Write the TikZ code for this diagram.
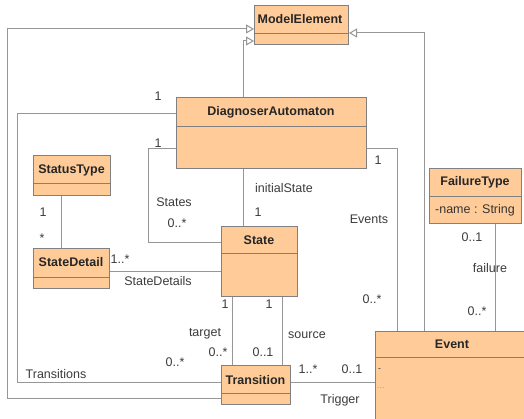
\documentclass[tikz,border=0pt]{standalone}
\usepackage{fontspec}
\setmainfont{Liberation Sans}
\usetikzlibrary{arrows.meta}
\definecolor{boxfill}{RGB}{255,204,153}
\definecolor{boxline}{RGB}{128,128,128}
\definecolor{conncol}{RGB}{150,150,150}
\definecolor{lbl}{RGB}{60,60,60}
\begin{document}
\begin{tikzpicture}[x=1pt,y=-1pt,
  cls/.style={draw=boxline, fill=boxfill, line width=1pt, inner sep=0pt, anchor=north west},
  ttl/.style={font=\fontsize{12.5}{14}\selectfont\bfseries, text=black!85, inner sep=0pt},
  lab/.style={font=\fontsize{12.5}{14}\selectfont, text=lbl, inner sep=0pt},
  assoc/.style={draw=conncol, line width=1pt},
  gen/.style={assoc, -{Triangle[open, length=8pt, width=9pt, fill=white]}},
  divider/.style={draw=boxline, line width=0.8pt}]
\useasboundingbox (0,0) rectangle (524,419);
\clip (0,0) rectangle (524,419);
\fill[white] (0,0) rectangle (524,419);

% class boxes
\node[cls, minimum width=94pt, minimum height=39pt] (ME) at (254,5) {};
\node[cls, minimum width=190pt, minimum height=71pt] (DA) at (176,97) {};
\node[cls, minimum width=77pt, minimum height=40pt] (StT) at (33,155) {};
\node[cls, minimum width=76pt, minimum height=40pt] (SD) at (33,248) {};
\node[cls, minimum width=76pt, minimum height=70pt] (St) at (221,226) {};
\node[cls, minimum width=69pt, minimum height=39pt] (Tr) at (221,365) {};
\node[cls, minimum width=92pt, minimum height=55pt] (FT) at (429,168) {};
\node[cls, minimum width=170pt, minimum height=100pt] (Ev) at (375,331) {};

% header dividers
\draw[divider] (ME.west |- 0,33) -- (ME.east |- 0,33);
\draw[divider] (DA.west |- 0,126) -- (DA.east |- 0,126);
\draw[divider] (StT.west |- 0,183) -- (StT.east |- 0,183);
\draw[divider] (SD.west |- 0,277) -- (SD.east |- 0,277);
\draw[divider] (St.west |- 0,253) -- (St.east |- 0,253);
\draw[divider] (Tr.west |- 0,393) -- (Tr.east |- 0,393);
\draw[divider] (FT.west |- 0,196) -- (FT.east |- 0,196);
\draw[divider] (Ev.west |- 0,357) -- (Ev.east |- 0,357);

% titles and attributes
\node[ttl] (MEt) at (300,19) {ModelElement};
\node[ttl] (DAt) at (271,112) {DiagnoserAutomaton};
\node[ttl] (StTt) at (71.5,170) {StatusType};
\node[ttl] (SDt) at (71,262) {StateDetail};
\node[ttl] (Stt) at (259,240) {State};
\node[ttl] (Trt) at (255.5,380) {Transition};
\node[ttl] (FTt) at (475,182) {FailureType};
\node[lab, text=black!80] (FTa) at (475,210) {-name : String};
\node[ttl] (Evt) at (452,344) {Event};
\node[lab, anchor=west, font=\fontsize{9}{10}\selectfont] (Eva) at (378,370) {-};
\node[lab, anchor=west, text=gray!75, font=\fontsize{9}{10}\selectfont] (Evb) at (377,388) {...};

% generalizations
\draw[gen] (Tr.west |- 0,398) -| (7,29) -- (ME.west |- 0,29);
\draw[gen] (DA.north -| 243,0) |- (ME.west |- 0,41);
\draw[gen] (Ev.north -| 424,0) |- (ME.east |- 0,33);

% associations
\draw[assoc] (DA.west |- 0,114) -| (17,382) -- (Tr.west |- 0,382);
\draw[assoc] (DA.west |- 0,149) -| (148,243) -- (St.west |- 0,243);
\draw[assoc] (DA.south -| 243,0) -- (St.north -| 243,0);
\draw[assoc] (DA.east |- 0,149) -| (Ev.north -| 397,0);
\draw[assoc] (StT.south -| 61,0) -- (SD.north -| 61,0);
\draw[assoc] (SD.east |- 0,272) -- (St.west |- 0,272);
\draw[assoc] (St.south -| 232,0) -- (Tr.north -| 232,0);
\draw[assoc] (St.south -| 282,0) -- (Tr.north -| 282,0);
\draw[assoc] (Tr.east |- 0,382) -- (Ev.west |- 0,382);
\draw[assoc] (FT.south -| 495,0) -- (Ev.north -| 495,0);

% labels
\node[lab] (l1) at (158,96) {1};
\node[lab] (l2) at (158,143) {1};
\node[lab] (l3) at (174,202) {States};
\node[lab] (l4) at (177,223) {0..*};
\node[lab] (l5) at (284,188) {initialState};
\node[lab] (l6) at (258,212) {1};
\node[lab] (l7) at (378,160) {1};
\node[lab] (l8) at (369,219) {Events};
\node[lab] (l9) at (372,299) {0..*};
\node[lab] (l10) at (43,212) {1};
\node[lab] (l11) at (42,238) {*};
\node[lab] (l12) at (120,259) {1..*};
\node[lab] (l13) at (158,281) {StateDetails};
\node[lab] (l14) at (225,304) {1};
\node[lab] (l15) at (269,304) {1};
\node[lab] (l16) at (205,334) {target};
\node[lab] (l17) at (218,352) {0..*};
\node[lab] (l18) at (175,362) {0..*};
\node[lab] (l19) at (56,374) {Transitions};
\node[lab] (l20) at (307,335) {source};
\node[lab] (l21) at (263,352) {0..1};
\node[lab] (l22) at (308,369) {1..*};
\node[lab] (l23) at (352,369) {0..1};
\node[lab] (l24) at (340,400) {Trigger};
\node[lab] (l25) at (472,237) {0..1};
\node[lab] (l26) at (490,268) {failure};
\node[lab] (l27) at (477,311) {0..*};
\end{tikzpicture}
\end{document}
